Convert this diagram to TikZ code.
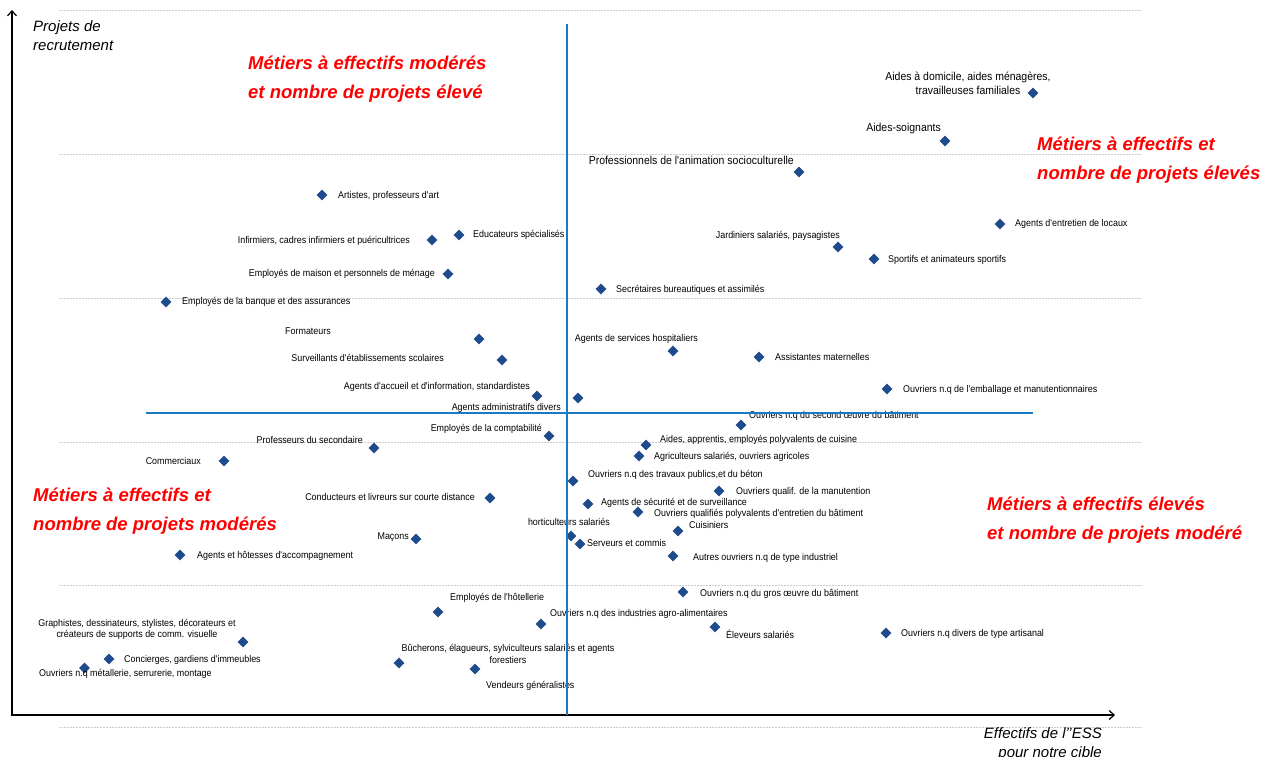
\documentclass[tikz,border=0pt]{standalone}
\usepackage{fontspec}
\setmainfont{Liberation Sans}
\newfontfamily\narrowsans[FakeStretch=0.91]{Liberation Sans}
\usetikzlibrary{arrows.meta,shapes.geometric}
\definecolor{pointblue}{RGB}{30,75,140}
\definecolor{splitblue}{RGB}{25,122,195}
\definecolor{quadred}{RGB}{255,0,0}
\tikzset{
  job/.style={diamond, fill=pointblue, inner sep=0pt, minimum width=11pt, minimum height=11pt},
  lbl/.style={inner sep=0pt, font=\narrowsans\fontsize{9.8}{11.5}\selectfont},
  lblbig/.style={inner sep=0pt, font=\narrowsans\fontsize{11.5}{14}\selectfont},
  quad/.style={inner sep=0pt, anchor=north west, align=left, text=quadred, font=\fontsize{18.5}{28.5}\selectfont\bfseries\itshape},
  axislbl/.style={inner sep=0pt, font=\fontsize{15}{19}\selectfont\itshape},
  gridline/.style={black!20, line width=0.6pt, dash pattern=on 0.6pt off 0.9pt},
  axisline/.style={line width=1.2pt, {Straight Barb[length=5pt,width=9pt]}-{Straight Barb[length=5pt,width=9pt]}},
  splitline/.style={splitblue, line width=1.5pt}
}

\begin{document}
\begin{tikzpicture}[x=1pt, y=-1pt]
  \useasboundingbox (0,0) rectangle (1277,756);
  \foreach \gy in {10,154,298,442,585,727} \draw[gridline] (59,\gy) -- (1141,\gy);
  \coordinate (ytop) at (12,10); \coordinate (origin) at (12,715); \coordinate (xend) at (1115,715);
  \draw[axisline] (ytop) -- (origin) -- (xend);
  \node[axislbl, anchor=north west, align=left] (ylab) at (33,20.5) {Projets de\\recrutement};
  \node[axislbl, anchor=north east, align=right] (xlab) at (1102,727) {Effectifs de l'{}'ESS\\pour notre cible};

  \node[quad] (qtl) at (248,56) {Métiers à effectifs modérés\\et nombre de projets élevé};
  \node[quad] (qtr) at (1037,137) {Métiers à effectifs et\\nombre de projets élevés};
  \node[quad] (qbl) at (33,488) {Métiers à effectifs et\\nombre de projets modérés};
  \node[quad] (qbr) at (987,497) {Métiers à effectifs élevés\\et nombre de projets modéré};

  \node[job] (dom) at (1033,93) {};    \node[lblbig, align=center] (domL) at (968,83) {Aides à domicile, aides ménagères,\\travailleuses familiales};
  \node[job] (soi) at (945,141) {};    \node[lblbig, anchor=mid east] (soiL) at (941,129) {Aides-soignants};
  \node[job] (anim) at (799,172) {};   \node[lblbig, anchor=mid east] (animL) at (794,162) {Professionnels de l'animation socioculturelle};
  \node[job] (art) at (322,195) {};    \node[lbl, anchor=mid west] (artL) at (338,196) {Artistes, professeurs d'art};
  \node[job] (inf) at (432,240) {};    \node[lbl, anchor=mid east] (infL) at (410,241) {Infirmiers, cadres infirmiers et puéricultrices};
  \node[job] (edu) at (459,235) {};    \node[lbl, anchor=mid west] (eduL) at (473,235) {Educateurs spécialisés};
  \node[job] (mais) at (448,274) {};   \node[lbl, anchor=mid east] (maisL) at (435,274) {Employés de maison et personnels de ménage};
  \node[job] (banq) at (166,302) {};   \node[lbl, anchor=mid west] (banqL) at (182,302) {Employés de la banque et des assurances};
  \node[job] (secr) at (601,289) {};   \node[lbl, anchor=mid west] (secrL) at (616,290) {Secrétaires bureautiques et assimilés};
  \node[job] (jard) at (838,247) {};   \node[lbl, anchor=mid east] (jardL) at (840,236) {Jardiniers salariés, paysagistes};
  \node[job] (sport) at (874,259) {};  \node[lbl, anchor=mid west] (sportL) at (888,260) {Sportifs et animateurs sportifs};
  \node[job] (entr) at (1000,224) {};  \node[lbl, anchor=mid west] (entrL) at (1015,224) {Agents d'entretien de locaux};
  \node[job] (form) at (479,339) {};   \node[lbl, anchor=mid east] (formL) at (331,332) {Formateurs};
  \node[job] (surv) at (502,360) {};   \node[lbl, anchor=mid east] (survL) at (444,359) {Surveillants d'établissements scolaires};
  \node[job] (accu) at (537,396) {};   \node[lbl, anchor=mid east] (accuL) at (530,387) {Agents d'accueil et d'information, standardistes};
  \node[job] (admi) at (578,398) {};   \node[lbl, anchor=mid east] (admiL) at (561,408) {Agents administratifs divers};
  \node[job] (hosp) at (673,351) {};   \node[lbl, anchor=mid east] (hospL) at (698,339) {Agents de services hospitaliers};
  \node[job] (mat) at (759,357) {};    \node[lbl, anchor=mid west] (matL) at (775,358) {Assistantes maternelles};
  \node[job] (emb) at (887,389) {};    \node[lbl, anchor=mid west] (embL) at (903,390) {Ouvriers n.q de l'emballage et manutentionnaires};
  \node[job] (sec2) at (741,425) {};   \node[lbl, anchor=mid west] (sec2L) at (749,416) {Ouvriers n.q du second œuvre du bâtiment};
  \node[job] (compta) at (549,436) {}; \node[lbl, anchor=mid east] (comptaL) at (542,429) {Employés de la comptabilité};
  \node[job] (prof) at (374,448) {};   \node[lbl, anchor=mid east] (profL) at (363,441) {Professeurs du secondaire};
  \node[job] (comm) at (224,461) {};   \node[lbl, anchor=mid east] (commL) at (201,462) {Commerciaux};
  \node[job] (cuis) at (646,445) {};   \node[lbl, anchor=mid west] (cuisL) at (660,440) {Aides, apprentis, employés polyvalents de cuisine};
  \node[job] (agri) at (639,456) {};   \node[lbl, anchor=mid west] (agriL) at (654,457) {Agriculteurs salariés, ouvriers agricoles};
  \node[job] (tp) at (573,481) {};     \node[lbl, anchor=mid west] (tpL) at (588,475) {Ouvriers n.q des travaux publics,et du béton};
  \node[job] (manu) at (719,491) {};   \node[lbl, anchor=mid west] (manuL) at (736,492) {Ouvriers qualif. de la manutention};
  \node[job] (secu) at (588,504) {};   \node[lbl, anchor=mid west] (secuL) at (601,503) {Agents de sécurité et de surveillance};
  \node[job] (poly) at (638,512) {};   \node[lbl, anchor=mid west] (polyL) at (654,514) {Ouvriers qualifiés polyvalents d'entretien du bâtiment};
  \node[job] (cond) at (490,498) {};   \node[lbl, anchor=mid east] (condL) at (475,498) {Conducteurs et livreurs sur courte distance};
  \node[job] (horti) at (571,536) {};  \node[lbl, anchor=mid east] (hortiL) at (610,523) {horticulteurs salariés};
  \node[job] (cuisi) at (678,531) {};  \node[lbl, anchor=mid west] (cuisiL) at (689,526) {Cuisiniers};
  \node[job] (serv) at (580,544) {};   \node[lbl, anchor=mid west] (servL) at (587,544) {Serveurs et commis};
  \node[job] (autr) at (673,556) {};   \node[lbl, anchor=mid west] (autrL) at (693,558) {Autres ouvriers n.q de type industriel};
  \node[job] (macon) at (416,539) {};  \node[lbl, anchor=mid east] (maconL) at (409,537) {Maçons};
  \node[job] (hote) at (180,555) {};   \node[lbl, anchor=mid west] (hoteL) at (197,556) {Agents et hôtesses d'accompagnement};
  \node[job] (gros) at (683,592) {};   \node[lbl, anchor=mid west] (grosL) at (700,594) {Ouvriers n.q du gros œuvre du bâtiment};
  \node[job] (hotel) at (438,612) {};  \node[lbl, anchor=mid west] (hotelL) at (450,598) {Employés de l'hôtellerie};
  \node[job] (agro) at (541,624) {};   \node[lbl, anchor=mid west] (agroL) at (550,614) {Ouvriers n.q des industries agro-alimentaires};
  \node[job] (elev) at (715,627) {};   \node[lbl, anchor=mid west] (elevL) at (726,636) {Éleveurs salariés};
  \node[job] (arti) at (886,633) {};   \node[lbl, anchor=mid west] (artiL) at (901,634) {Ouvriers n.q divers de type artisanal};
  \node[job] (graph) at (243,642) {};  \node[lbl, align=center] (graphL) at (137,629.5) {Graphistes, dessinateurs, stylistes, décorateurs et\\créateurs de supports de comm. visuelle};
  \node[job] (conc) at (109,659) {};   \node[lbl, anchor=mid west] (concL) at (124,660) {Concierges, gardiens d'immeubles};
  \node[job] (meta) at (84.5,668) {};  \node[lbl, anchor=mid west] (metaL) at (39,674) {Ouvriers n.q métallerie, serrurerie, montage};
  \node[job] (buch) at (399,663) {};   \node[lbl, align=center] (buchL) at (508,654) {Bûcherons, élagueurs, sylviculteurs salariés et agents\\forestiers};
  \node[job] (vend) at (475,669) {};   \node[lbl, anchor=mid west] (vendL) at (486,686) {Vendeurs généralistes};

  \coordinate (vtop) at (567,24); \coordinate (vbot) at (567,715);
  \coordinate (hleft) at (146,413); \coordinate (hright) at (1033,413);
  \draw[splitline, line width=2.2pt] (vtop) -- (vbot);
  \draw[splitline] (hleft) -- (hright);
\end{tikzpicture}
\end{document}
